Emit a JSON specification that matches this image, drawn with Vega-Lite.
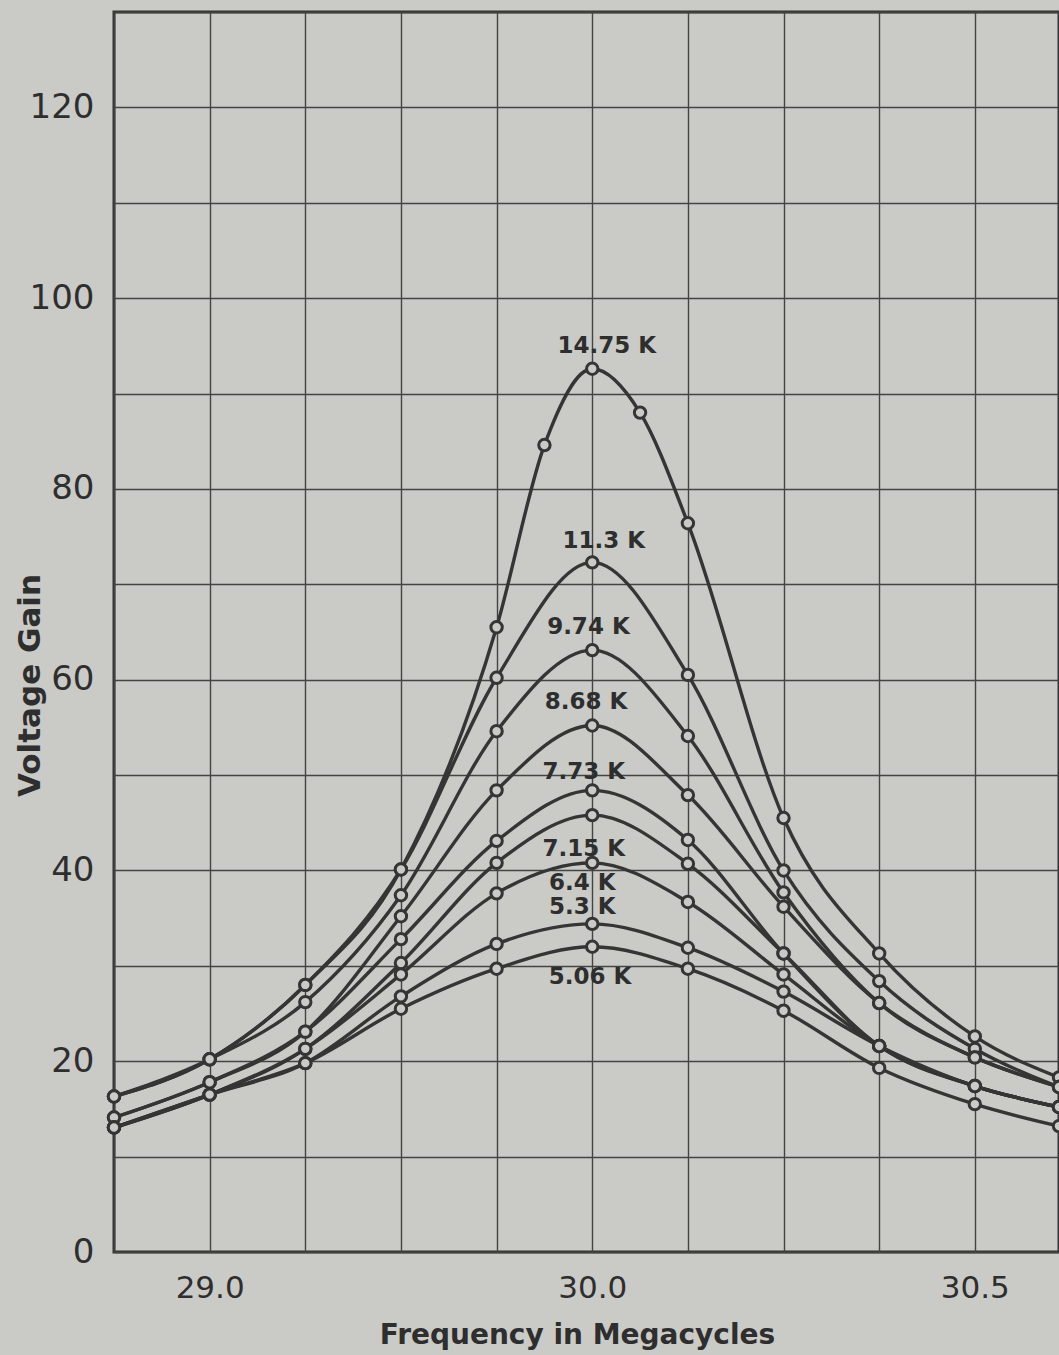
{
  "$schema": "https://vega.github.io/schema/vega-lite/v6.json",
  "width": 945,
  "height": 1240,
  "autosize": {"type": "none"},
  "padding": {"left": 114, "top": 12, "right": 0, "bottom": 103},
  "background": "#cacac6",
  "config": {
    "view": {"stroke": "#333333", "strokeWidth": 3, "fill": "#cacac6"},
    "font": "DejaVu Sans"
  },
  "datasets": {
    "curves": [
      {"R": "14.75 K", "freq": 29.375, "gain": 16.3},
      {"R": "14.75 K", "freq": 29.5, "gain": 20.2},
      {"R": "14.75 K", "freq": 29.625, "gain": 28.0},
      {"R": "14.75 K", "freq": 29.75, "gain": 40.1},
      {"R": "14.75 K", "freq": 29.875, "gain": 65.5},
      {"R": "14.75 K", "freq": 29.9375, "gain": 84.6},
      {"R": "14.75 K", "freq": 30.0, "gain": 92.6},
      {"R": "14.75 K", "freq": 30.0625, "gain": 88.0},
      {"R": "14.75 K", "freq": 30.125, "gain": 76.4},
      {"R": "14.75 K", "freq": 30.25, "gain": 45.5},
      {"R": "14.75 K", "freq": 30.375, "gain": 31.3},
      {"R": "14.75 K", "freq": 30.5, "gain": 22.6},
      {"R": "14.75 K", "freq": 30.61, "gain": 18.3},

      {"R": "11.3 K", "freq": 29.375, "gain": 16.3},
      {"R": "11.3 K", "freq": 29.5, "gain": 20.2},
      {"R": "11.3 K", "freq": 29.625, "gain": 28.0},
      {"R": "11.3 K", "freq": 29.75, "gain": 40.1},
      {"R": "11.3 K", "freq": 29.875, "gain": 60.2},
      {"R": "11.3 K", "freq": 30.0, "gain": 72.3},
      {"R": "11.3 K", "freq": 30.125, "gain": 60.5},
      {"R": "11.3 K", "freq": 30.25, "gain": 40.0},
      {"R": "11.3 K", "freq": 30.375, "gain": 28.4},
      {"R": "11.3 K", "freq": 30.5, "gain": 21.3},
      {"R": "11.3 K", "freq": 30.61, "gain": 17.3},

      {"R": "9.74 K", "freq": 29.375, "gain": 16.3},
      {"R": "9.74 K", "freq": 29.5, "gain": 20.2},
      {"R": "9.74 K", "freq": 29.625, "gain": 26.2},
      {"R": "9.74 K", "freq": 29.75, "gain": 37.4},
      {"R": "9.74 K", "freq": 29.875, "gain": 54.6},
      {"R": "9.74 K", "freq": 30.0, "gain": 63.1},
      {"R": "9.74 K", "freq": 30.125, "gain": 54.1},
      {"R": "9.74 K", "freq": 30.25, "gain": 37.7},
      {"R": "9.74 K", "freq": 30.375, "gain": 26.1},
      {"R": "9.74 K", "freq": 30.5, "gain": 20.4},
      {"R": "9.74 K", "freq": 30.61, "gain": 17.3},

      {"R": "8.68 K", "freq": 29.375, "gain": 14.1},
      {"R": "8.68 K", "freq": 29.5, "gain": 17.8},
      {"R": "8.68 K", "freq": 29.625, "gain": 23.1},
      {"R": "8.68 K", "freq": 29.75, "gain": 35.2},
      {"R": "8.68 K", "freq": 29.875, "gain": 48.4},
      {"R": "8.68 K", "freq": 30.0, "gain": 55.2},
      {"R": "8.68 K", "freq": 30.125, "gain": 47.9},
      {"R": "8.68 K", "freq": 30.25, "gain": 36.2},
      {"R": "8.68 K", "freq": 30.375, "gain": 26.1},
      {"R": "8.68 K", "freq": 30.5, "gain": 20.4},
      {"R": "8.68 K", "freq": 30.61, "gain": 17.3},

      {"R": "7.73 K", "freq": 29.375, "gain": 14.1},
      {"R": "7.73 K", "freq": 29.5, "gain": 17.8},
      {"R": "7.73 K", "freq": 29.625, "gain": 23.1},
      {"R": "7.73 K", "freq": 29.75, "gain": 32.8},
      {"R": "7.73 K", "freq": 29.875, "gain": 43.1},
      {"R": "7.73 K", "freq": 30.0, "gain": 48.4},
      {"R": "7.73 K", "freq": 30.125, "gain": 43.2},
      {"R": "7.73 K", "freq": 30.25, "gain": 31.3},
      {"R": "7.73 K", "freq": 30.375, "gain": 21.6},
      {"R": "7.73 K", "freq": 30.5, "gain": 17.4},
      {"R": "7.73 K", "freq": 30.61, "gain": 15.2},

      {"R": "7.15 K", "freq": 29.375, "gain": 13.05},
      {"R": "7.15 K", "freq": 29.5, "gain": 16.5},
      {"R": "7.15 K", "freq": 29.625, "gain": 21.3},
      {"R": "7.15 K", "freq": 29.75, "gain": 30.3},
      {"R": "7.15 K", "freq": 29.875, "gain": 40.8},
      {"R": "7.15 K", "freq": 30.0, "gain": 45.8},
      {"R": "7.15 K", "freq": 30.125, "gain": 40.7},
      {"R": "7.15 K", "freq": 30.25, "gain": 31.3},
      {"R": "7.15 K", "freq": 30.375, "gain": 21.6},
      {"R": "7.15 K", "freq": 30.5, "gain": 17.4},
      {"R": "7.15 K", "freq": 30.61, "gain": 15.2},

      {"R": "6.4 K", "freq": 29.375, "gain": 13.05},
      {"R": "6.4 K", "freq": 29.5, "gain": 16.5},
      {"R": "6.4 K", "freq": 29.625, "gain": 21.3},
      {"R": "6.4 K", "freq": 29.75, "gain": 29.1},
      {"R": "6.4 K", "freq": 29.875, "gain": 37.6},
      {"R": "6.4 K", "freq": 30.0, "gain": 40.8},
      {"R": "6.4 K", "freq": 30.125, "gain": 36.7},
      {"R": "6.4 K", "freq": 30.25, "gain": 29.1},
      {"R": "6.4 K", "freq": 30.375, "gain": 21.6},
      {"R": "6.4 K", "freq": 30.5, "gain": 17.4},
      {"R": "6.4 K", "freq": 30.61, "gain": 15.2},

      {"R": "5.3 K", "freq": 29.375, "gain": 13.05},
      {"R": "5.3 K", "freq": 29.5, "gain": 16.5},
      {"R": "5.3 K", "freq": 29.625, "gain": 19.8},
      {"R": "5.3 K", "freq": 29.75, "gain": 26.8},
      {"R": "5.3 K", "freq": 29.875, "gain": 32.3},
      {"R": "5.3 K", "freq": 30.0, "gain": 34.4},
      {"R": "5.3 K", "freq": 30.125, "gain": 31.9},
      {"R": "5.3 K", "freq": 30.25, "gain": 27.3},
      {"R": "5.3 K", "freq": 30.375, "gain": 21.6},
      {"R": "5.3 K", "freq": 30.5, "gain": 17.4},
      {"R": "5.3 K", "freq": 30.61, "gain": 15.2},

      {"R": "5.06 K", "freq": 29.375, "gain": 13.05},
      {"R": "5.06 K", "freq": 29.5, "gain": 16.5},
      {"R": "5.06 K", "freq": 29.625, "gain": 19.8},
      {"R": "5.06 K", "freq": 29.75, "gain": 25.5},
      {"R": "5.06 K", "freq": 29.875, "gain": 29.7},
      {"R": "5.06 K", "freq": 30.0, "gain": 32.0},
      {"R": "5.06 K", "freq": 30.125, "gain": 29.7},
      {"R": "5.06 K", "freq": 30.25, "gain": 25.3},
      {"R": "5.06 K", "freq": 30.375, "gain": 19.3},
      {"R": "5.06 K", "freq": 30.5, "gain": 15.5},
      {"R": "5.06 K", "freq": 30.61, "gain": 13.2}
    ],
    "labels": [
      {"label": "14.75 K", "freq": 30.019, "gain": 95.0},
      {"label": "11.3 K", "freq": 30.015, "gain": 74.5},
      {"label": "9.74 K", "freq": 29.995, "gain": 65.5},
      {"label": "8.68 K", "freq": 29.992, "gain": 57.7},
      {"label": "7.73 K", "freq": 29.989, "gain": 50.3},
      {"label": "7.15 K", "freq": 29.989, "gain": 42.3},
      {"label": "6.4 K", "freq": 29.987, "gain": 38.7},
      {"label": "5.3 K", "freq": 29.987, "gain": 36.2},
      {"label": "5.06 K", "freq": 29.997, "gain": 28.8}
    ]
  },
  "encoding": {
    "x": {
      "field": "freq",
      "type": "quantitative",
      "scale": {"domain": [29.375, 30.61], "nice": false, "zero": false},
      "axis": {
        "title": "Frequency in Megacycles",
        "values": [29.375, 29.5, 29.625, 29.75, 29.875, 30.0, 30.125, 30.25, 30.375, 30.5],
        "labelExpr": "datum.value == 29.5 ? '29.0' : datum.value == 30 ? '30.0' : datum.value == 30.5 ? '30.5' : ''",
        "grid": true,
        "gridColor": "#444444",
        "gridWidth": 1.4,
        "gridOpacity": 1,
        "domain": false,
        "ticks": false,
        "labelFontSize": 31,
        "labelColor": "#2e2e2e",
        "labelPadding": 21,
        "labelFlush": false,
        "titleFontSize": 28,
        "titleFontWeight": "bold",
        "titleColor": "#2e2e2e",
        "titleX": 463,
        "titleY": 83,
        "titleBaseline": "middle",
        "titleAlign": "center"
      }
    },
    "y": {
      "field": "gain",
      "type": "quantitative",
      "scale": {"domain": [0, 130], "nice": false},
      "axis": {
        "title": "Voltage Gain",
        "values": [0, 10, 20, 30, 40, 50, 60, 70, 80, 90, 100, 110, 120, 130],
        "labelExpr": "datum.value % 20 == 0 ? datum.label : ''",
        "grid": true,
        "gridColor": "#444444",
        "gridWidth": 1.4,
        "gridOpacity": 1,
        "domain": false,
        "ticks": false,
        "labelFontSize": 34,
        "labelColor": "#2e2e2e",
        "labelPadding": 20,
        "titleFontSize": 31,
        "titleFontWeight": "bold",
        "titleColor": "#2e2e2e",
        "titleAngle": 270,
        "titleX": -84,
        "titleY": 673,
        "titleBaseline": "middle",
        "titleAlign": "center"
      }
    }
  },
  "layer": [
    {
      "data": {"name": "curves"},
      "mark": {"type": "line", "interpolate": "monotone", "color": "#353535", "strokeWidth": 3.4},
      "encoding": {"detail": {"field": "R", "type": "nominal"}}
    },
    {
      "data": {"name": "curves"},
      "mark": {"type": "point", "shape": "circle", "filled": true, "fill": "#cacac6", "stroke": "#353535", "strokeWidth": 3, "size": 130, "opacity": 1}
    },
    {
      "data": {"name": "labels"},
      "mark": {"type": "text", "fontSize": 23, "fontWeight": "bold", "font": "DejaVu Sans", "color": "#2e2e2e", "align": "center", "baseline": "middle"},
      "encoding": {"text": {"field": "label", "type": "nominal"}}
    }
  ]
}
